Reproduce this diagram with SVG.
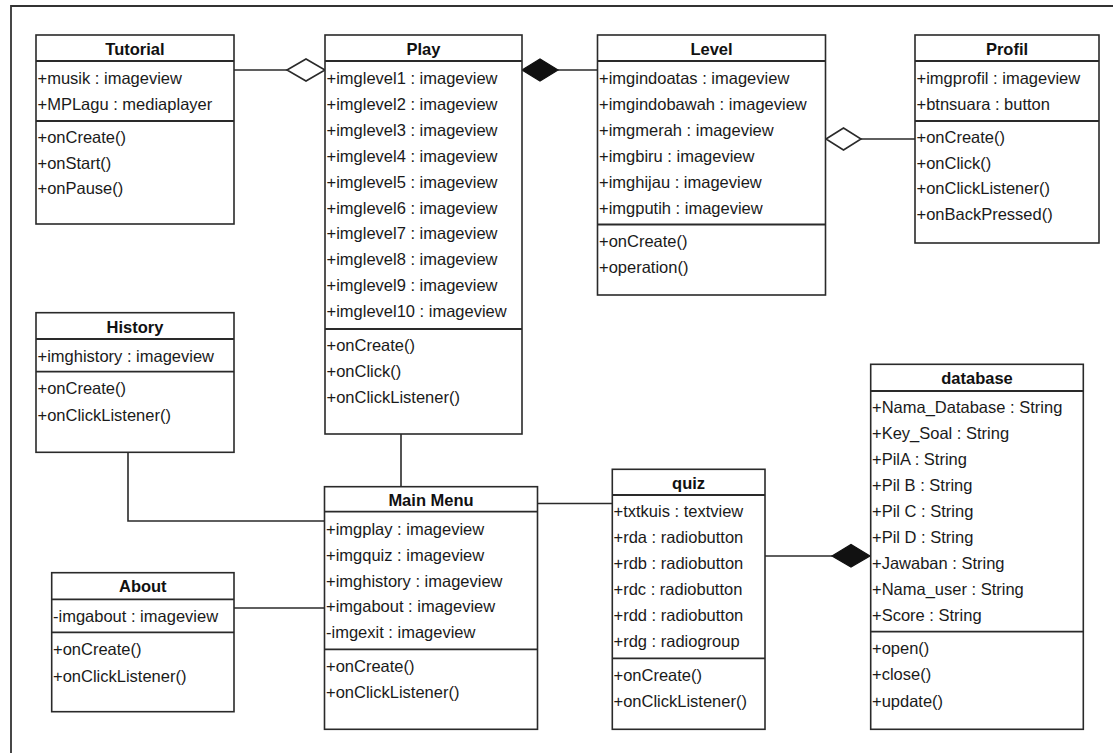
<svg xmlns="http://www.w3.org/2000/svg" width="1115" height="753" viewBox="0 0 1115 753">
<style>
.box{fill:#fff;stroke:#2a2a2a;stroke-width:1.6}
.sep{stroke:#2a2a2a;stroke-width:1.8}
.t{font-family:"Liberation Sans",Arial,sans-serif;font-size:16.5px;fill:#1a1a1a}
.h{font-family:"Liberation Sans",Arial,sans-serif;font-size:16.5px;font-weight:bold;fill:#111;text-anchor:middle}
.ln{fill:none;stroke:#2a2a2a;stroke-width:1.6}
.hol{fill:#fff;stroke:#2a2a2a;stroke-width:1.6}
.fil{fill:#111;stroke:#111;stroke-width:1.2}
.frame{fill:none;stroke:#333;stroke-width:1.8}
</style>
<rect width="1115" height="753" fill="#fff"/>
<path class="frame" d="M11,753 V6 H1113"/>

<g id="connectors">
  <path class="ln" d="M234,70 H287"/>
  <polygon class="hol" points="287,70 306,59 325,70 306,81"/>
  <path class="ln" d="M558,70 H597"/>
  <polygon class="fil" points="522,70 540,59 558,70 540,81"/>
  <path class="ln" d="M861,139 H915"/>
  <polygon class="hol" points="826,139 843.5,128 861,139 843.5,150"/>
  <path class="ln" d="M401,434 V487"/>
  <path class="ln" d="M128,452 V521 H325"/>
  <path class="ln" d="M234,608 H325"/>
  <path class="ln" d="M537,503.5 H612"/>
  <path class="ln" d="M765,556 H832"/>
  <polygon class="fil" points="832,556 851,544.5 870,556 851,567"/>
</g>

<g id="tutorial">
  <rect class="box" x="36" y="35" width="198" height="189"/>
  <line class="sep" x1="36" y1="61" x2="234" y2="61"/>
  <line class="sep" x1="36" y1="121" x2="234" y2="121"/>
  <text class="h" x="135" y="55">Tutorial</text>
  <text class="t" x="37.5" y="84">+musik : imageview</text>
  <text class="t" x="37.5" y="109.5">+MPLagu : mediaplayer</text>
  <text class="t" x="37.5" y="143">+onCreate()</text>
  <text class="t" x="37.5" y="168.5">+onStart()</text>
  <text class="t" x="37.5" y="194">+onPause()</text>
</g>

<g id="play">
  <rect class="box" x="325" y="35" width="197" height="399"/>
  <line class="sep" x1="325" y1="61" x2="522" y2="61"/>
  <line class="sep" x1="325" y1="329" x2="522" y2="329"/>
  <text class="h" x="423.5" y="55">Play</text>
  <text class="t" x="326.5" y="84">+imglevel1 : imageview</text>
  <text class="t" x="326.5" y="109.9">+imglevel2 : imageview</text>
  <text class="t" x="326.5" y="135.8">+imglevel3 : imageview</text>
  <text class="t" x="326.5" y="161.7">+imglevel4 : imageview</text>
  <text class="t" x="326.5" y="187.6">+imglevel5 : imageview</text>
  <text class="t" x="326.5" y="213.5">+imglevel6 : imageview</text>
  <text class="t" x="326.5" y="239.4">+imglevel7 : imageview</text>
  <text class="t" x="326.5" y="265.3">+imglevel8 : imageview</text>
  <text class="t" x="326.5" y="291.2">+imglevel9 : imageview</text>
  <text class="t" x="326.5" y="317.1">+imglevel10 : imageview</text>
  <text class="t" x="326.5" y="351">+onCreate()</text>
  <text class="t" x="326.5" y="377">+onClick()</text>
  <text class="t" x="326.5" y="403">+onClickListener()</text>
</g>

<g id="level">
  <rect class="box" x="597.5" y="35" width="228" height="260"/>
  <line class="sep" x1="597.5" y1="61" x2="825.5" y2="61"/>
  <line class="sep" x1="597.5" y1="224.5" x2="825.5" y2="224.5"/>
  <text class="h" x="711.5" y="55">Level</text>
  <text class="t" x="599" y="84">+imgindoatas : imageview</text>
  <text class="t" x="599" y="109.9">+imgindobawah : imageview</text>
  <text class="t" x="599" y="135.8">+imgmerah : imageview</text>
  <text class="t" x="599" y="161.7">+imgbiru : imageview</text>
  <text class="t" x="599" y="187.6">+imghijau : imageview</text>
  <text class="t" x="599" y="213.5">+imgputih : imageview</text>
  <text class="t" x="599" y="247.3">+onCreate()</text>
  <text class="t" x="599" y="272.8">+operation()</text>
</g>

<g id="profil">
  <rect class="box" x="915" y="35" width="184" height="208"/>
  <line class="sep" x1="915" y1="61" x2="1099" y2="61"/>
  <line class="sep" x1="915" y1="121" x2="1099" y2="121"/>
  <text class="h" x="1007" y="55">Profil</text>
  <text class="t" x="916.5" y="84">+imgprofil : imageview</text>
  <text class="t" x="916.5" y="109.5">+btnsuara : button</text>
  <text class="t" x="916.5" y="143">+onCreate()</text>
  <text class="t" x="916.5" y="168.7">+onClick()</text>
  <text class="t" x="916.5" y="194.4">+onClickListener()</text>
  <text class="t" x="916.5" y="220">+onBackPressed()</text>
</g>

<g id="history">
  <rect class="box" x="36" y="312.7" width="198" height="139.6"/>
  <line class="sep" x1="36" y1="339" x2="234" y2="339"/>
  <line class="sep" x1="36" y1="371.7" x2="234" y2="371.7"/>
  <text class="h" x="135" y="332.5">History</text>
  <text class="t" x="37.5" y="361.7">+imghistory : imageview</text>
  <text class="t" x="37.5" y="394.3">+onCreate()</text>
  <text class="t" x="37.5" y="420.5">+onClickListener()</text>
</g>

<g id="mainmenu">
  <rect class="box" x="324.5" y="486.7" width="213" height="242.6"/>
  <line class="sep" x1="324.5" y1="511.7" x2="537.5" y2="511.7"/>
  <line class="sep" x1="324.5" y1="649.3" x2="537.5" y2="649.3"/>
  <text class="h" x="431" y="506">Main Menu</text>
  <text class="t" x="326" y="535">+imgplay : imageview</text>
  <text class="t" x="326" y="560.8">+imgquiz : imageview</text>
  <text class="t" x="326" y="586.6">+imghistory : imageview</text>
  <text class="t" x="326" y="612.4">+imgabout : imageview</text>
  <text class="t" x="326" y="638.2">-imgexit : imageview</text>
  <text class="t" x="326" y="672.3">+onCreate()</text>
  <text class="t" x="326" y="698.3">+onClickListener()</text>
</g>

<g id="about">
  <rect class="box" x="51.7" y="572.7" width="182.3" height="139"/>
  <line class="sep" x1="51.7" y1="599.3" x2="234" y2="599.3"/>
  <line class="sep" x1="51.7" y1="632.3" x2="234" y2="632.3"/>
  <text class="h" x="142.8" y="592.2">About</text>
  <text class="t" x="53" y="622.3">-imgabout : imageview</text>
  <text class="t" x="53" y="655">+onCreate()</text>
  <text class="t" x="53" y="681.5">+onClickListener()</text>
</g>

<g id="quiz">
  <rect class="box" x="612.3" y="469.3" width="152.7" height="260"/>
  <line class="sep" x1="612.3" y1="495" x2="765" y2="495"/>
  <line class="sep" x1="612.3" y1="658.3" x2="765" y2="658.3"/>
  <text class="h" x="688.6" y="488.5">quiz</text>
  <text class="t" x="613.5" y="517.3">+txtkuis : textview</text>
  <text class="t" x="613.5" y="543.3">+rda : radiobutton</text>
  <text class="t" x="613.5" y="569.3">+rdb : radiobutton</text>
  <text class="t" x="613.5" y="595.2">+rdc : radiobutton</text>
  <text class="t" x="613.5" y="621.1">+rdd : radiobutton</text>
  <text class="t" x="613.5" y="647">+rdg : radiogroup</text>
  <text class="t" x="613.5" y="681">+onCreate()</text>
  <text class="t" x="613.5" y="707.3">+onClickListener()</text>
</g>

<g id="database">
  <rect class="box" x="870.7" y="364.3" width="212.6" height="365"/>
  <line class="sep" x1="870.7" y1="391" x2="1083.3" y2="391"/>
  <line class="sep" x1="870.7" y1="631.7" x2="1083.3" y2="631.7"/>
  <text class="h" x="977" y="384.3">database</text>
  <text class="t" x="872" y="413.3">+Nama_Database : String</text>
  <text class="t" x="872" y="439.2">+Key_Soal : String</text>
  <text class="t" x="872" y="465.1">+PilA : String</text>
  <text class="t" x="872" y="491">+Pil B : String</text>
  <text class="t" x="872" y="516.9">+Pil C : String</text>
  <text class="t" x="872" y="542.8">+Pil D : String</text>
  <text class="t" x="872" y="568.7">+Jawaban : String</text>
  <text class="t" x="872" y="594.8">+Nama_user : String</text>
  <text class="t" x="872" y="620.8">+Score : String</text>
  <text class="t" x="872" y="654.3">+open()</text>
  <text class="t" x="872" y="680">+close()</text>
  <text class="t" x="872" y="706.5">+update()</text>
</g>
</svg>
